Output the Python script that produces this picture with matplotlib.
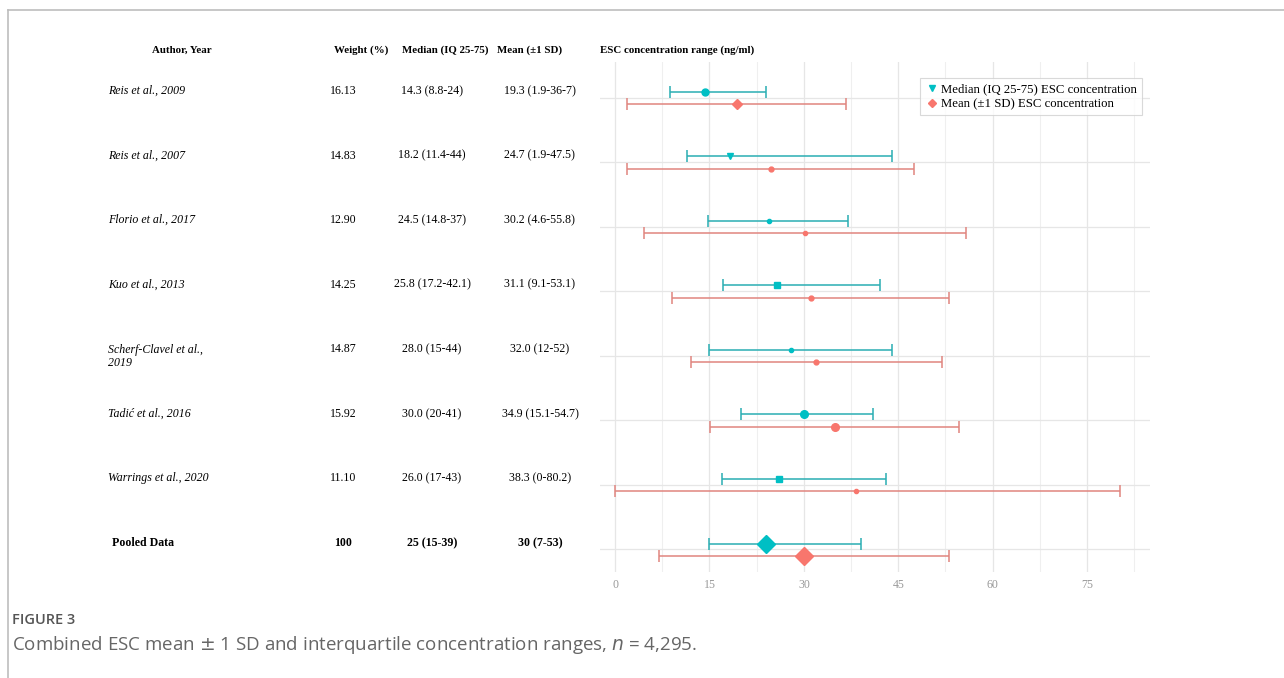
import matplotlib
matplotlib.use("Agg")
import matplotlib.pyplot as plt
from matplotlib.lines import Line2D
from matplotlib.transforms import blended_transform_factory

# study rows, top to bottom
authors = ["Reis et al., 2009", "Reis et al., 2007", "Florio et al., 2017", "Kuo et al., 2013",
           "Scherf-Clavel et al.,\n2019", "Tadić et al., 2016", "Warrings et al., 2020", "Pooled Data"]
weights = ["16.13", "14.83", "12.90", "14.25", "14.87", "15.92", "11.10", "100"]
median_txt = ["14.3 (8.8-24)", "18.2 (11.4-44)", "24.5 (14.8-37)", "25.8 (17.2-42.1)",
              "28.0 (15-44)", "30.0 (20-41)", "26.0 (17-43)", "25 (15-39)"]
mean_txt = ["19.3 (1.9-36-7)", "24.7 (1.9-47.5)", "30.2 (4.6-55.8)", "31.1 (9.1-53.1)",
            "32.0 (12-52)", "34.9 (15.1-54.7)", "38.3 (0-80.2)", "30 (7-53)"]

# values plotted
median = [14.3, 18.2, 24.5, 25.8, 28.0, 30.0, 26.0, 24.0]
q25 = [8.8, 11.4, 14.8, 17.2, 15.0, 20.0, 17.0, 15.0]
q75 = [24.0, 44.0, 37.0, 42.1, 44.0, 41.0, 43.0, 39.0]
mean = [19.3, 24.7, 30.2, 31.1, 32.0, 34.9, 38.3, 30.0]
sd_lo = [1.9, 1.9, 4.6, 9.1, 12.0, 15.1, 0.0, 7.0]
sd_hi = [36.7, 47.5, 55.8, 53.1, 52.0, 54.7, 80.2, 53.0]

teal = "#00BFC4"
red = "#F8766D"
serif = "Liberation Serif"
fs = 8.6

W, H = 1284, 678
fig = plt.figure(figsize=(W / 100, H / 100), dpi=100)

# plot panel
ax = fig.add_axes([600 / W, 1 - 572 / H, 550 / W, (572 - 62) / H])
ax.set_xlim(-2.4, 85.0)
ax.set_ylim(7.35, -0.55)
for s in ax.spines.values():
    s.set_visible(False)
ax.set_xticks([0, 15, 30, 45, 60, 75])
ax.set_xticks([7.5, 22.5, 37.5, 52.5, 67.5, 82.5], minor=True)
ax.set_yticks(range(len(authors)))
ax.set_yticklabels([])
ax.tick_params(axis="both", which="both", length=0)
ax.tick_params(axis="x", labelsize=8.6, labelcolor="#9a9a9a", pad=5)
for lab in ax.get_xticklabels():
    lab.set_fontfamily(serif)
ax.grid(True, which="major", color="#e6e6e6", lw=0.9)
ax.grid(True, which="minor", axis="x", color="#efefef", lw=0.8)
ax.set_axisbelow(True)

med_mk = ["o", "v", "o", "s", "o", "o", "s", "D"]
med_ms = [5, 4, 3, 4, 3, 5.5, 4, 9]
mean_mk = ["D", "o", "o", "o", "o", "o", "o", "D"]
mean_ms = [5.5, 3.5, 3, 3.5, 3.5, 5.5, 3, 9]

for i in range(len(authors)):
    ax.errorbar(median[i], i - 0.09, xerr=[[median[i] - q25[i]], [q75[i] - median[i]]],
                fmt=med_mk[i], ms=med_ms[i], color=teal, ecolor="#2aaeb3",
                elinewidth=1.1, capsize=4, capthick=1.1)
    ax.errorbar(mean[i], i + 0.1, xerr=[[mean[i] - sd_lo[i]], [sd_hi[i] - mean[i]]],
                fmt=mean_mk[i], ms=mean_ms[i], color=red, ecolor="#e0857f",
                elinewidth=1.1, capsize=4, capthick=1.1)

handles = [Line2D([], [], marker="v", ls="", color=teal, ms=5),
           Line2D([], [], marker="D", ls="", color=red, ms=4.5)]
leg = ax.legend(handles, ["Median (IQ 25-75) ESC concentration", "Mean (±1 SD) ESC concentration"],
                loc="upper right", bbox_to_anchor=(0.985, 0.968), frameon=True, fancybox=False,
                prop={"family": serif, "size": 9.2}, handletextpad=0.2, borderpad=0.4,
                labelspacing=0.2, handlelength=1.0, borderaxespad=0)
leg.get_frame().set_edgecolor("#d0d0d0")
leg.get_frame().set_linewidth(0.8)

# table on the left
tr = blended_transform_factory(fig.transFigure, ax.transData)
for i in range(len(authors)):
    bold = authors[i] == "Pooled Data"
    nl = authors[i].count("\n")
    y = i - 0.1
    fig.text((112 if bold else 108) / W, y + 0.11 * nl, authors[i], transform=tr, ha="left", va="center",
             family=serif, size=fs, style="normal" if bold else "italic",
             weight="bold" if bold else "normal", linespacing=1.05)
    for x, txt in [(343, weights[i]), (432, median_txt[i]), (540, mean_txt[i])]:
        fig.text(x / W, y, txt, transform=tr, ha="center", va="center", family=serif, size=fs,
                 weight="bold" if bold else "normal")

heads = [(152, "left", "Author, Year"), (361, "center", "Weight (%)"),
         (445, "center", "Median (IQ 25-75)"), (530, "center", "Mean (±1 SD)"),
         (600, "left", "ESC concentration range (ng/ml)")]
for x, ha, txt in heads:
    fig.text(x / W, 1 - 50 / H, txt, ha=ha, va="center", family=serif, size=7.8, weight="bold")

# caption
fig.text(12 / W, 1 - 620 / H, "FIGURE 3", ha="left", va="center", family="Open Sans",
         size=10.5, color="#555555", weight="semibold")
fig.text(12 / W, 1 - 645 / H, r"Combined ESC mean $\pm$ 1 SD and interquartile concentration ranges, $\it{n}$ = 4,295.",
         ha="left", va="center", family="Open Sans", size=13.5, color="#666666")

# page frame lines
fig.add_artist(Line2D([8 / W, 1], [1 - 10 / H, 1 - 10 / H], color="#bdbdbd", lw=1.2))
fig.add_artist(Line2D([8 / W, 8 / W], [0, 1 - 10 / H], color="#bdbdbd", lw=1.2))

fig.savefig("out.png", dpi=100)
